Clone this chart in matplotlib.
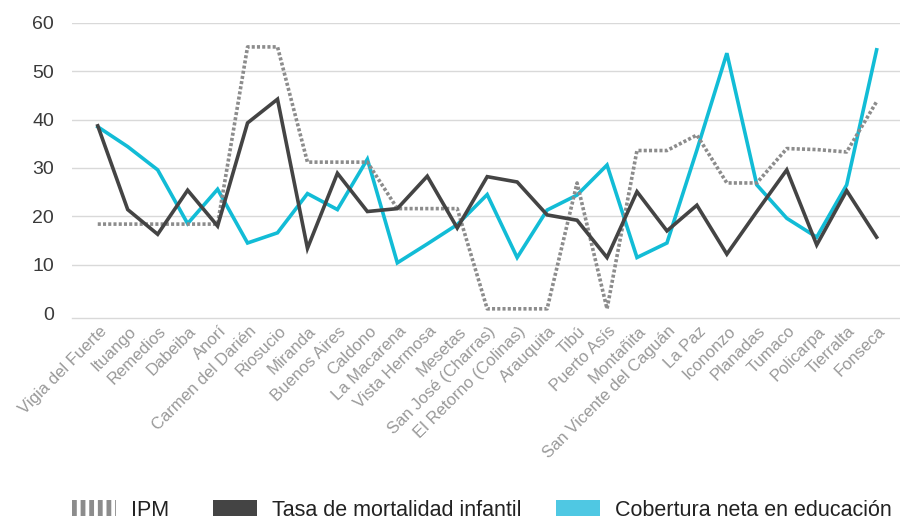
import matplotlib
matplotlib.use("Agg")
import matplotlib.pyplot as plt
import matplotlib.transforms as mtransforms
from matplotlib.lines import Line2D
from matplotlib.patches import Patch

categories = ["Vigia del Fuerte", "Ituango", "Remedios", "Dabeiba", "Anorí",
              "Carmen del Darién", "Riosucio", "Miranda", "Buenos Aires", "Caldono",
              "La Macarena", "Vista Hermosa", "Mesetas", "San José (Charras)",
              "El Retorno (Colinas)", "Arauquita", "Tibú", "Puerto Asís", "Montañita",
              "San Vicente del Caguán", "La Paz", "Icononzo", "Planadas", "Tumaco",
              "Policarpa", "Tierralta", "Fonseca"]

ipm = [18.4, 18.4, 18.4, 18.4, 18.4, 55.0, 55.0, 31.2, 31.2, 31.2,
       21.6, 21.6, 21.6, 0.9, 0.9, 0.9, 26.9, 0.9, 33.6, 33.6,
       36.8, 26.9, 26.9, 34.0, 33.8, 33.3, 43.7]

mortalidad = [38.7, 21.4, 16.3, 25.4, 18.0, 39.3, 44.2, 13.4, 28.9, 21.0,
              21.6, 28.3, 17.6, 28.2, 27.1, 20.3, 19.2, 11.5, 25.1, 17.0,
              22.3, 12.2, 21.0, 29.6, 14.1, 25.3, 15.7]

cobertura = [38.5, 34.4, 29.6, 18.5, 25.6, 14.5, 16.6, 24.7, 21.4, 31.8,
             10.4, 14.3, 18.3, 24.5, 11.5, 21.3, 24.4, 30.6, 11.5, 14.5,
             33.7, 53.7, 26.5, 19.6, 15.7, 26.5, 54.4]

yticks = [0, 10, 20, 30, 40, 50, 60]
series_names = ["IPM", "Tasa de mortalidad infantil", "Cobertura neta en educación"]

C_IPM = "#8c8c8c"
C_MORT = "#444444"
C_COB = "#12bcd6"
C_COB_LEG = "#4fc8e3"
FONT = ["Liberation Sans", "DejaVu Sans"]

plt.rcParams["font.family"] = FONT
W, H = 900, 521
fig = plt.figure(figsize=(9, 5.21), dpi=100)
ax = fig.add_axes([0.08, 0.3896, 0.92, 0.5668])

x = list(range(len(categories)))
ax.plot(x, ipm, color=C_IPM, lw=2.6, linestyle=(0, (0.85, 0.6)),
        solid_capstyle="butt", dash_capstyle="butt", zorder=3)
ax.plot(x, mortalidad, color=C_MORT, lw=2.6, solid_joinstyle="miter", zorder=4)
ax.plot(x, cobertura, color=C_COB, lw=2.6, solid_joinstyle="miter", zorder=2)

ax.set_ylim(-1.0, 60.0)
ax.set_xlim(-0.86, 26.78)
ax.set_yticks(yticks)
for t in yticks[1:]:
    ax.axhline(t, color="#d9d9d9", lw=1.0, zorder=0)
for s in ["top", "right", "left"]:
    ax.spines[s].set_visible(False)
ax.spines["bottom"].set_color("#d9d9d9")
ax.spines["bottom"].set_linewidth(1.0)
ax.tick_params(axis="y", length=0, pad=13, labelsize=14, labelcolor="#3a3a3a")
ax.tick_params(axis="x", length=0, pad=4)
ax.set_xticks(x)
ax.set_xticklabels(categories, rotation=45, ha="right", va="top",
                   rotation_mode="anchor", fontsize=12, color="#999999")
offset = mtransforms.ScaledTranslation(1 / 100, 0, fig.dpi_scale_trans)
for lbl in ax.get_xticklabels():
    lbl.set_transform(lbl.get_transform() + offset)

# legend: three single-entry legends placed at measured pixel positions
leg_items = [
    (Line2D([0], [0], color=C_IPM, lw=11.5, linestyle=(0, (0.3, 0.24)), dash_capstyle="butt"), 72),
    (Patch(facecolor=C_MORT, edgecolor="none"), 213),
    (Patch(facecolor=C_COB_LEG, edgecolor="none"), 556),
]
FS = 15.5
for (h, px), name in zip(leg_items, series_names):
    leg = fig.legend([h], [name], loc="center left", bbox_to_anchor=(px / W, 1 - 510 / H),
                     frameon=False, borderpad=0, borderaxespad=0,
                     handlelength=31.7 / FS, handleheight=11.5 / FS, handletextpad=10.8 / FS,
                     prop={"family": FONT, "size": FS})
    for t in leg.get_texts():
        t.set_color("#222222")

fig.savefig("out.png", dpi=100)
